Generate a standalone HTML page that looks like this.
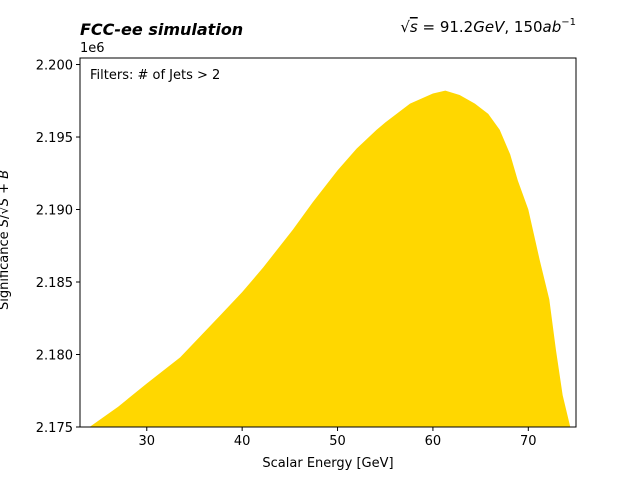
<!DOCTYPE html>
<html><head><meta charset="utf-8"><style>
body{margin:0;background:#fff;font-family:"Liberation Sans","DejaVu Sans",sans-serif;}
svg text{font-family:"DejaVu Sans","Liberation Sans",sans-serif;}
</style></head><body>
<svg id="c" width="640" height="480" xmlns="http://www.w3.org/2000/svg">
<defs><clipPath id="clip"><rect x="80" y="58" width="496" height="369"/></clipPath></defs>
<g id="plot" clip-path="url(#clip)"></g>
<rect x="80" y="58" width="496" height="369" fill="none" stroke="#000" stroke-width="1"/>
<g id="axes"></g>
<text x="80" y="35" font-size="16" font-weight="bold" font-style="italic">FCC-ee simulation</text>
<text x="576" y="32" font-size="15" text-anchor="end">√<tspan text-decoration="overline" font-style="italic">s</tspan> = 91.2<tspan font-style="italic">GeV</tspan>, 150<tspan font-style="italic">ab</tspan><tspan font-size="10" dy="-7">−1</tspan></text>
<text x="80" y="52" font-size="13">1e6</text>
<text x="90" y="79" font-size="13">Filters: # of Jets &gt; 2</text>
<text x="328" y="467" font-size="13" text-anchor="middle">Scalar Energy [GeV]</text>
<text transform="translate(8,310) rotate(-90)" font-size="13">Significance <tspan font-style="italic">S</tspan>/√<tspan text-decoration="overline" font-style="italic">S + B</tspan></text>
</svg>
<script>
const xValues=[24.0,27,30,33.5,37.7,40,42.2,45.3,47.4,50,52,54.1,55,57.6,60,61.3,62.8,64.4,65.8,67,68.1,68.9,70,71.2,72.2,72.9,73.6,74.4];
const yValues=[2.1750,2.1764,2.1780,2.1798,2.1827,2.1843,2.1860,2.1886,2.1905,2.1927,2.1942,2.1955,2.1960,2.1973,2.1980,2.1982,2.1979,2.1973,2.1966,2.1955,2.1938,2.1920,2.1900,2.1865,2.1838,2.1803,2.1772,2.1750];
const xTicks=[30,40,50,60,70];
const yTicks=[2.175,2.180,2.185,2.190,2.195,2.200];
const X0=80,X1=576,Y0=58,Y1=427,xmin=23,xmax=75,ymin=2.175,ymax=2.20045;
const sx=v=>X0+(v-xmin)/(xmax-xmin)*(X1-X0);
const sy=v=>Y1-(v-ymin)/(ymax-ymin)*(Y1-Y0);
const NS="http://www.w3.org/2000/svg";
const plot=document.getElementById('plot'),axes=document.getElementById('axes');
let d=`M${sx(xValues[0])},${Y1+5}`;
xValues.forEach((x,i)=>{d+=` L${sx(x)},${sy(yValues[i])}`;});
d+=` L${sx(xValues[xValues.length-1])},${Y1+5} Z`;
const p=document.createElementNS(NS,'path');
p.setAttribute('d',d);p.setAttribute('fill','#ffd700');


plot.appendChild(p);
xTicks.forEach(t=>{
 const l=document.createElementNS(NS,'line');
 l.setAttribute('x1',sx(t));l.setAttribute('x2',sx(t));l.setAttribute('y1',Y1);l.setAttribute('y2',Y1+4);l.setAttribute('stroke','#000');
 
 
 axes.appendChild(l);
 const tx=document.createElementNS(NS,'text');
 tx.setAttribute('x',sx(t));tx.setAttribute('y',Y1+18);tx.setAttribute('font-size','13');tx.setAttribute('text-anchor','middle');tx.textContent=t;
 
 
 axes.appendChild(tx);
});
yTicks.forEach(t=>{
 const l=document.createElementNS(NS,'line');
 l.setAttribute('x1',X0-4);l.setAttribute('x2',X0);l.setAttribute('y1',sy(t));l.setAttribute('y2',sy(t));l.setAttribute('stroke','#000');
 
 
 axes.appendChild(l);
 const tx=document.createElementNS(NS,'text');
 tx.setAttribute('x',X0-7);tx.setAttribute('y',sy(t)+5);tx.setAttribute('font-size','13');tx.setAttribute('text-anchor','end');tx.textContent=t.toFixed(3);
 
 
 axes.appendChild(tx);
});
</script>
</body></html>
